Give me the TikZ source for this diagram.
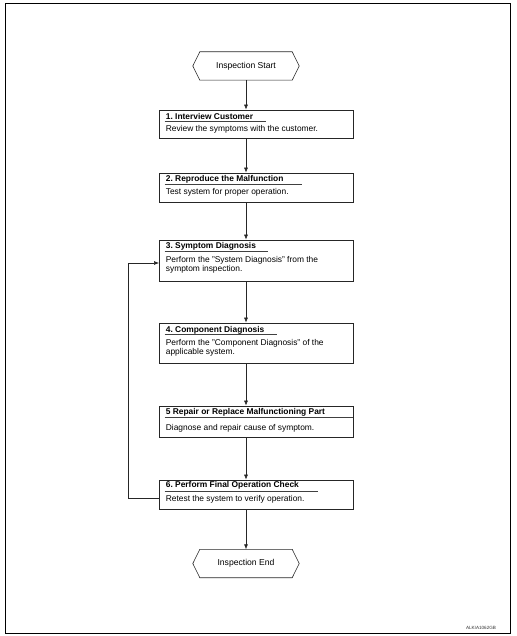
\documentclass[tikz,border=0pt]{standalone}
\usepackage{fontspec}
\setmainfont{Liberation Sans}
\usetikzlibrary{arrows.meta}
\frenchspacing
\newcommand{\bodylines}[1]{\parbox[t]{186pt}{\raggedright #1}}
\tikzset{
  stepbox/.style={draw=black!85, line width=0.7pt, minimum width=194pt, inner sep=0pt},
  conn/.style={draw=black!85, line width=0.6pt},
  arr/.style={conn, -{Latex[length=5pt,width=4pt]}},
  ttl/.style={anchor=base west, inner sep=0pt, font=\fontsize{8.4}{9}\selectfont\bfseries},
  bdy/.style={anchor=base west, inner sep=0pt, font=\fontsize{8.4}{9.2}\selectfont},
  term/.style={inner sep=0pt, minimum width=106pt, minimum height=28pt, font=\fontsize{8.6}{9}\selectfont},
  uline/.style={draw=black!75, line width=0.5pt}
}
\begin{document}
\begin{tikzpicture}[x=1pt,y=-1pt]
\path[use as bounding box] (0,0) rectangle (516,636);
\draw[line width=1pt] (5,4) rectangle (510.5,633);

% terminals
\node[term] (start) at (246,66) {Inspection Start};
\draw[conn] (start.west) -- ([xshift=7pt]start.north west) -- ([xshift=-7pt]start.north east) -- (start.east) -- ([xshift=-7pt]start.south east) -- ([xshift=7pt]start.south west) -- cycle;
\node[term] (finish) at (246,563.5) {Inspection End};
\draw[conn] (finish.west) -- ([xshift=7pt]finish.north west) -- ([xshift=-7pt]finish.north east) -- (finish.east) -- ([xshift=-7pt]finish.south east) -- ([xshift=7pt]finish.south west) -- cycle;

% boxes
\node[stepbox, minimum height=28pt] (b1) at (256,124) {};
\node[stepbox, minimum height=29pt] (b2) at (256,187.5) {};
\node[stepbox, minimum height=41pt] (b3) at (256,260.5) {};
\node[stepbox, minimum height=40pt] (b4) at (256,343) {};
\node[stepbox, minimum height=31pt] (b5) at (256,421.5) {};
\node[stepbox, minimum height=29pt] (b6) at (256,494.5) {};

% texts
\node[ttl] (t1) at ([xshift=7pt,yshift=-9.5pt]b1.north west) {1. Interview Customer};
\draw[uline] ([xshift=6pt,yshift=-11.5pt]b1.north west) -- ([xshift=107pt,yshift=-11.5pt]b1.north west);
\node[bdy] (d1) at ([xshift=7pt,yshift=-22pt]b1.north west) {Review the symptoms with the customer.};

\node[ttl] (t2) at ([xshift=7pt,yshift=-9pt]b2.north west) {2. Reproduce the Malfunction};
\draw[uline] ([xshift=6pt,yshift=-11.5pt]b2.north west) -- ([xshift=143pt,yshift=-11.5pt]b2.north west);
\node[bdy] (d2) at ([xshift=7pt,yshift=-22pt]b2.north west) {Test system for proper operation.};

\node[ttl] (t3) at ([xshift=7pt,yshift=-9pt]b3.north west) {3. Symptom Diagnosis};
\draw[uline] ([xshift=6pt,yshift=-11.5pt]b3.north west) -- ([xshift=109pt,yshift=-11.5pt]b3.north west);
\node[bdy] (d3) at ([xshift=7pt,yshift=-22.5pt]b3.north west) {\bodylines{Perform the "System Diagnosis" from the\\symptom inspection.}};

\node[ttl] (t4) at ([xshift=7pt,yshift=-9.5pt]b4.north west) {4. Component Diagnosis};
\draw[uline] ([xshift=6pt,yshift=-12pt]b4.north west) -- ([xshift=118pt,yshift=-12pt]b4.north west);
\node[bdy] (d4) at ([xshift=7pt,yshift=-23pt]b4.north west) {\bodylines{Perform the "Component Diagnosis" of the\\applicable system.}};

\node[ttl] (t5) at ([xshift=7pt,yshift=-9pt]b5.north west) {5 Repair or Replace Malfunctioning Part};
\draw[uline] ([xshift=6pt,yshift=-12pt]b5.north west) -- ([yshift=-12pt]b5.north east);
\node[bdy] (d5) at ([xshift=7pt,yshift=-24.5pt]b5.north west) {Diagnose and repair cause of symptom.};

\node[ttl] (t6) at ([xshift=7pt,yshift=-8pt]b6.north west) {6. Perform Final Operation Check};
\draw[uline] ([xshift=6pt,yshift=-11.5pt]b6.north west) -- ([xshift=159pt,yshift=-11.5pt]b6.north west);
\node[bdy] (d6) at ([xshift=7pt,yshift=-22pt]b6.north west) {Retest the system to verify operation.};

% connectors
\draw[arr] (start.south) -- (start.south |- b1.north);
\draw[arr] (start.south |- b1.south) -- (start.south |- b2.north);
\draw[arr] (start.south |- b2.south) -- (start.south |- b3.north);
\draw[arr] (start.south |- b3.south) -- (start.south |- b4.north);
\draw[arr] (start.south |- b4.south) -- (start.south |- b5.north);
\draw[arr] (start.south |- b5.south) -- (start.south |- b6.north);
\draw[arr] (start.south |- b6.south) -- (finish.north);

\coordinate (l1) at (159,498);
\coordinate (l2) at (128,498);
\coordinate (l3) at (128,263);
\coordinate (l4) at (159,263);
\draw[arr] (l1) -- (l2) -- (l3) -- (l4);

\node[inner sep=0pt, font=\fontsize{4.6}{5}\selectfont, text=black!80] (code) at (481,628) {ALKIA1062GB};
\end{tikzpicture}
\end{document}
